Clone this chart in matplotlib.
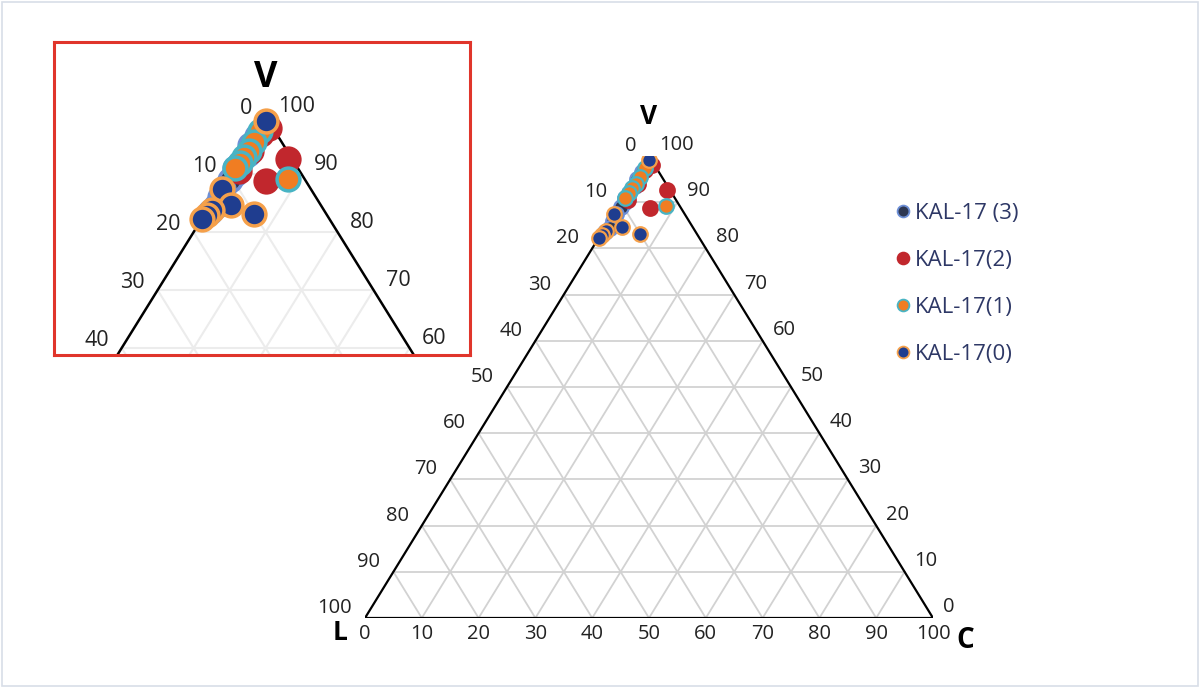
import numpy as np
import matplotlib.pyplot as plt
from matplotlib.lines import Line2D
from matplotlib.patches import Rectangle

plt.rcParams['font.family'] = ['Open Sans', 'DejaVu Sans']

# ternary points as V (%) and C (%); L = 100 - V - C
kal3_v = [96.5, 95.0, 93.5, 92.0, 91.0, 90.0, 89.0, 87.5, 86.0, 84.5, 83.5]
kal3_c = [0.6, 0.4, 0.8, 0.5, 0.3, 0.7, 0.5, 0.4, 0.6, 0.9, 0.5]
kal2_v = [98.0, 97.0, 94.0, 90.5, 92.7, 88.8]
kal2_c = [1.5, 0.8, 1.0, 1.0, 6.8, 5.7]
kal1_v = [97.5, 95.5, 94.0, 93.0, 92.0, 91.0, 89.1]
kal1_c = [0.5, 0.6, 0.7, 0.5, 0.4, 0.3, 8.5]
kal0_v = [99.2, 87.4, 84.7, 83.2, 83.8, 83.0, 82.2]
kal0_c = [0.4, 0.2, 2.9, 6.8, 0.6, 0.3, 0.1]

names = ['KAL-17 (3)', 'KAL-17(2)', 'KAL-17(1)', 'KAL-17(0)']
faces = ['#2d3752', '#c1272d', '#f07d22', '#1f3d8f']
edges = ['#6d8fd6', '#c1272d', '#48b4c4', '#f5a04a']
series = [(kal3_v, kal3_c), (kal2_v, kal2_c), (kal1_v, kal1_c), (kal0_v, kal0_c)]

ticks = np.arange(0, 101, 10)


def tern(v, c):
    v = np.asarray(v, float)
    c = np.asarray(c, float)
    return c + v / 2, v


def draw_frame(ax, gcol, glw, elw):
    for i in ticks[1:-1]:
        # V = i
        x, y = tern([i, i], [0, 100 - i])
        ax.plot(x, y, color=gcol, lw=glw, zorder=1)
        # C = i
        x, y = tern([0, 100 - i], [i, i])
        ax.plot(x, y, color=gcol, lw=glw, zorder=1)
        # L = i
        x, y = tern([0, 100 - i], [100 - i, 0])
        ax.plot(x, y, color=gcol, lw=glw, zorder=1)
    x, y = tern([0, 100, 0, 0], [0, 0, 100, 0])
    ax.plot(x, y, color='black', lw=elw, zorder=2, solid_joinstyle='miter')


def draw_points(ax, s, lw):
    for (v, c), fc, ec in zip(series, faces, edges):
        x, y = tern(v, c)
        ax.scatter(x, y, s=s, facecolor=fc, edgecolor=ec, linewidth=lw, zorder=5)


fig = plt.figure(figsize=(12, 6.88), dpi=100)
fig.patches.append(Rectangle((0.002, 0.003), 0.996, 0.994, transform=fig.transFigure,
                             fill=False, edgecolor='#d8dee8', lw=1.2))

# main triangle
ax = fig.add_axes([365 / 1200, 70 / 688, 568 / 1200, 462 / 688])
ax.set_xlim(0, 100)
ax.set_ylim(0, 100)
ax.axis('off')
draw_frame(ax, '#d2d2d2', 1.3, 1.6)
draw_points(ax, 110, 1.6)

tcol = '#222222'
fs = 14.5
for k in ticks:
    # left edge: L %
    x, y = tern(100 - k, 0)
    ax.annotate(str(k), (x, y), xytext=(-13, 10), textcoords='offset pixels',
                ha='right', va='center', fontsize=fs, color=tcol, annotation_clip=False)
    # right edge: V %
    x, y = tern(k, 100 - k)
    ax.annotate(str(k), (x, y), xytext=(10, 11), textcoords='offset pixels',
                ha='left', va='center', fontsize=fs, color=tcol, annotation_clip=False)
    # bottom: C %
    x, y = tern(0, k)
    ax.annotate(str(k), (x, y), xytext=(0, -16), textcoords='offset pixels',
                ha='center', va='center', fontsize=fs, color=tcol, annotation_clip=False)

ax.annotate('V', tern(100, 0), xytext=(0, 40), textcoords='offset pixels', ha='center',
            va='center', fontsize=19, fontweight='bold', annotation_clip=False)
ax.annotate('L', tern(0, 0), xytext=(-25, -15), textcoords='offset pixels', ha='center',
            va='center', fontsize=19, fontweight='bold', annotation_clip=False)
ax.annotate('C', tern(0, 100), xytext=(32, -23), textcoords='offset pixels', ha='center',
            va='center', fontsize=20, fontweight='bold', annotation_clip=False)

# zoomed inset
ax_in = fig.add_axes([54 / 1200, 333 / 688, 416 / 1200, 313 / 688])
ax_in.set_xlim(20.6, 78.4)
ax_in.set_ylim(58.8, 112.8)
ax_in.set_xticks([])
ax_in.set_yticks([])
for sp in ax_in.spines.values():
    sp.set_color('#e0352b')
    sp.set_linewidth(2.2)
draw_frame(ax_in, '#ececec', 1.5, 1.8)
draw_points(ax_in, 270, 2.5)

for k in ticks[:5]:
    x, y = tern(100 - k, 0)
    ax_in.annotate(str(k), (x, y), xytext=(-13, 8), textcoords='offset pixels',
                   ha='right', va='center', fontsize=15.5, color=tcol)
    x, y = tern(100 - k, k)
    ax_in.annotate(str(100 - k), (x, y), xytext=(12, 10), textcoords='offset pixels',
                   ha='left', va='center', fontsize=15.5, color=tcol)
ax_in.annotate('V', tern(100, 0), xytext=(0, 38), textcoords='offset pixels', ha='center',
               va='center', fontsize=26, fontweight='bold')

# legend
handles = [Line2D([], [], ls='none', marker='o', markersize=8.5, markerfacecolor=fc,
                  markeredgecolor=ec, markeredgewidth=1.3) for fc, ec in zip(faces, edges)]
fig.legend(handles, names, loc='upper left', bbox_to_anchor=(895 / 1200, 1 - 203 / 688),
           frameon=False, fontsize=16, handlelength=0.7, handletextpad=0.2,
           labelspacing=1.17, borderpad=0, borderaxespad=0, labelcolor='#2e3866')

fig.savefig('out.png', dpi=100, facecolor='white')
